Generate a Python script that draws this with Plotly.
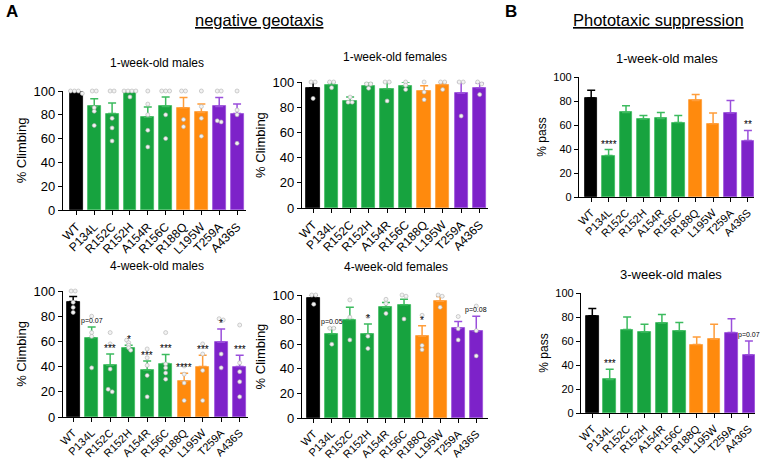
import plotly.graph_objects as go

genotypes = ["WT", "P134L", "R152C", "R152H", "A154R", "R156C", "R188Q", "L195W", "T259A", "A436S"]
colors = ["#000000", "#17a33f", "#17a33f", "#17a33f", "#17a33f", "#17a33f",
          "#ff8a0d", "#ff8a0d", "#7d22c9", "#7d22c9"]
err_colors = ["#000000", "#3dbb5f", "#3dbb5f", "#3dbb5f", "#3dbb5f", "#3dbb5f",
              "#ff9d3a", "#ff9d3a", "#9a4fdb", "#9a4fdb"]

# negative geotaxis, 1-week-old males
m1_mean = [99, 87, 81, 99, 78, 87, 86, 82, 87, 81]
m1_sem = [1, 6.5, 9, 1, 8.5, 8, 8.5, 7, 7.5, 8]
m1_pts = [[100, 100, 100, 98], [100, 100, 86, 83, 71], [100, 100, 77, 69, 58],
          [100, 100, 100, 100, 95], [100, 89, 80, 67, 53], [100, 100, 100, 80, 60],
          [100, 100, 76, 70], [100, 87, 77, 62], [100, 100, 75, 74], [100, 84, 80, 56]]

# negative geotaxis, 1-week-old females
f1_mean = [95.5, 98, 85, 97, 94.7, 96.6, 93, 98, 91, 95.5]
f1_sem = [5, 2, 3, 2, 5.3, 3.4, 4, 2, 9, 3.5]
f1_pts = [[100, 100, 87], [100, 100, 95.5], [84, 84, 88], [98.5, 98.5, 95],
          [100, 100, 85], [100, 97.5, 94], [100, 92, 86], [100, 100, 94],
          [100, 100, 73], [100, 98.5, 90]]

# phototaxic suppression, 1-week-old males
p1_mean = [82.5, 34.5, 70.5, 65, 65.5, 62, 80.5, 61, 70, 47]
p1_sem = [6.4, 5, 5.5, 3, 5, 6, 5, 9, 10.5, 8.5]

# negative geotaxis, 4-week-old males
m4_mean = [91.6, 62.8, 41, 55, 37.4, 42.4, 28.3, 40, 59.4, 40]
m4_sem = [4, 8.7, 9, 2, 7, 7.3, 6.5, 9, 10.5, 9]
m4_pts = [[100, 100, 91, 87, 83], [80, 67, 64, 39], [67, 58, 38, 22, 20],
          [61, 59, 57, 55, 53], [54, 47, 41, 33, 16], [67, 42, 39, 35, 30],
          [40.5, 34, 27, 13], [58, 50, 37, 13], [78, 77, 50, 39], [73, 43, 36, 28, 16]]

# negative geotaxis, 4-week-old females
f4_mean = [97.3, 68.5, 80, 68.5, 90, 92, 66.5, 95, 73, 70.7]
f4_sem = [2.7, 4.8, 10, 8, 4, 4.5, 8.5, 3.7, 5.4, 12]
f4_pts = [[100, 100, 92.5], [73, 73, 60], [96, 82, 63.5], [82.5, 66.5, 56.5],
          [96.5, 93, 85], [100, 99, 80.5], [83.5, 59, 55.5], [100, 99, 90],
          [82.5, 72.5, 63.5], [91, 71, 50.5]]

# phototaxic suppression, 3-week-old males
p3_mean = [81, 28, 69.5, 67.5, 75, 68.5, 57, 61.5, 67, 48.5]
p3_sem = [6, 8.5, 10.5, 6.5, 7, 7, 6.3, 12.5, 11.5, 11.5]

m4_sig = {1: "p=0.07", 2: "***", 3: "*", 4: "***", 5: "***", 6: "****", 7: "***", 8: "*", 9: "***"}
f4_sig = {1: "p=0.05", 3: "*", 6: "*", 9: "p=0.08"}
p1_sig = {1: "****", 9: "**"}
p3_sig = {1: "***", 9: "p=0.07"}

W, H = 763, 462
FONT = "Arial, Liberation Sans, sans-serif"

# panel: (means, sems, points, sig, ytitle, x px left/right, y px of 0/100, x range, title, title px, font size)
panels = [
    (m1_mean, m1_sem, m1_pts, {}, "% Climbing", (63, 246), (210, 91), [-0.75, 9.5],
     "1-week-old males", (157, 63), 12),
    (f1_mean, f1_sem, f1_pts, {}, "% Climbing", (302, 488), (208, 82), [-0.6, 9.45],
     "1-week-old females", (395, 57), 12),
    (p1_mean, p1_sem, None, p1_sig, "% pass", (579, 754), (197, 77), [-0.7, 9.35],
     "1-week-old males", (667, 59), 13),
    (m4_mean, m4_sem, m4_pts, m4_sig, "% Climbing", (63, 248), (417, 291), [-0.55, 9.45],
     "4-week-old males", (157, 266), 12),
    (f4_mean, f4_sem, f4_pts, f4_sig, "% Climbing", (302, 488), (418, 295), [-0.65, 9.65],
     "4-week-old females", (396, 267), 12),
    (p3_mean, p3_sem, None, p3_sig, "% pass", (581, 755), (413, 293), [-0.65, 9.35],
     "3-week-old males", (671, 274), 13),
]


def spread(vals):
    # put nearly equal points side by side
    xs = []
    for i, v in enumerate(vals):
        same = [j for j, u in enumerate(vals) if abs(u - v) < 2.5]
        k = same.index(i)
        n = len(same)
        xs.append((k - (n - 1) / 2) * 0.22)
    return xs


fig = go.Figure()
annotations = []
layout = {}

for i, (mean, sem, pts, sig, ytitle, xpx, ypx, xr, title, tpos, tsize) in enumerate(panels):
    n = "" if i == 0 else str(i + 1)
    xa, ya = "x" + n, "y" + n
    fig.add_trace(go.Bar(
        x=list(range(len(genotypes))), y=mean, width=0.72,
        marker=dict(color=colors, line=dict(color=err_colors, width=0.8)),
        xaxis=xa, yaxis=ya, showlegend=False, cliponaxis=False,
    ))
    # one error bar per genotype so each gets its own colour
    for g in range(len(genotypes)):
        fig.add_trace(go.Scatter(
            x=[g], y=[mean[g]], mode="markers", marker=dict(size=1, opacity=0),
            error_y=dict(type="data", symmetric=False, array=[sem[g]], arrayminus=[0],
                         color=err_colors[g], thickness=1.5, width=4),
            xaxis=xa, yaxis=ya, showlegend=False, hoverinfo="skip", cliponaxis=False,
        ))
    if pts:
        px_, py_ = [], []
        for g, vals in enumerate(pts):
            for off, v in zip(spread(vals), vals):
                px_.append(g + off)
                py_.append(v)
        fig.add_trace(go.Scatter(
            x=px_, y=py_, mode="markers",
            marker=dict(size=4, color="#f2f2f2", line=dict(color="#b0b0b0", width=0.6)),
            xaxis=xa, yaxis=ya, showlegend=False, cliponaxis=False,
        ))
    for g, txt in sig.items():
        star = txt.startswith("*")
        annotations.append(dict(
            x=g, y=mean[g] + sem[g], xref=xa, yref=ya, text=txt, showarrow=False,
            xanchor="center", yanchor="bottom", yshift=-2 if star else 0,
            font=dict(size=10 if star else 7, color="#000000", family=FONT),
        ))
    big = i in (0, 1, 3, 4)
    ytick_font = 13 if big else 11
    xtick_font = 12 if i in (0, 1) else 11
    title_font = 13 if big else 12
    layout["xaxis" + n] = dict(
        domain=[xpx[0] / W, xpx[1] / W], anchor=ya, range=xr, automargin=False,
        tickmode="array", tickvals=list(range(len(genotypes))), ticktext=genotypes,
        tickangle=-45, ticks="outside", ticklen=4, tickwidth=1.2, tickcolor="#000",
        showline=True, linecolor="#000", linewidth=1.2, showgrid=False, zeroline=False,
        tickfont=dict(size=xtick_font, family=FONT, color="#000"),
    )
    layout["yaxis" + n] = dict(
        domain=[1 - ypx[0] / H, 1 - ypx[1] / H], anchor=xa, range=[0, 100], automargin=False,
        tickvals=[0, 20, 40, 60, 80, 100], ticks="outside", ticklen=4, tickwidth=1.2,
        tickcolor="#000", showline=True, linecolor="#000", linewidth=1.2,
        showgrid=False, zeroline=False,
        tickfont=dict(size=ytick_font, family=FONT, color="#000"),
        title=dict(text=ytitle, font=dict(size=title_font, family=FONT, color="#000"),
                   standoff=4),
    )
    annotations.append(dict(
        x=tpos[0] / W, y=1 - tpos[1] / H, xref="paper", yref="paper", text=title,
        showarrow=False, xanchor="center", yanchor="middle",
        font=dict(size=tsize, family=FONT, color="#000"),
    ))

headers = [("<b>A</b>", 12, 11, 17), ("<b>B</b>", 511, 11, 17),
           ("<u>negative geotaxis</u>", 259, 20, 16.5),
           ("<u>Phototaxic suppression</u>", 658, 20, 16.5)]
for txt, hx, hy, hs in headers:
    annotations.append(dict(
        x=hx / W, y=1 - hy / H, xref="paper", yref="paper", text=txt, showarrow=False,
        xanchor="center", yanchor="middle", font=dict(size=hs, family=FONT, color="#000"),
    ))

fig.update_layout(
    width=W, height=H, margin=dict(l=0, r=0, t=0, b=0, autoexpand=False),
    plot_bgcolor="white", paper_bgcolor="white",
    bargap=0, annotations=annotations, **layout,
)

fig.write_html("out.html", config={"displayModeBar": False},
               post_script="document.body.style.margin='0';")
